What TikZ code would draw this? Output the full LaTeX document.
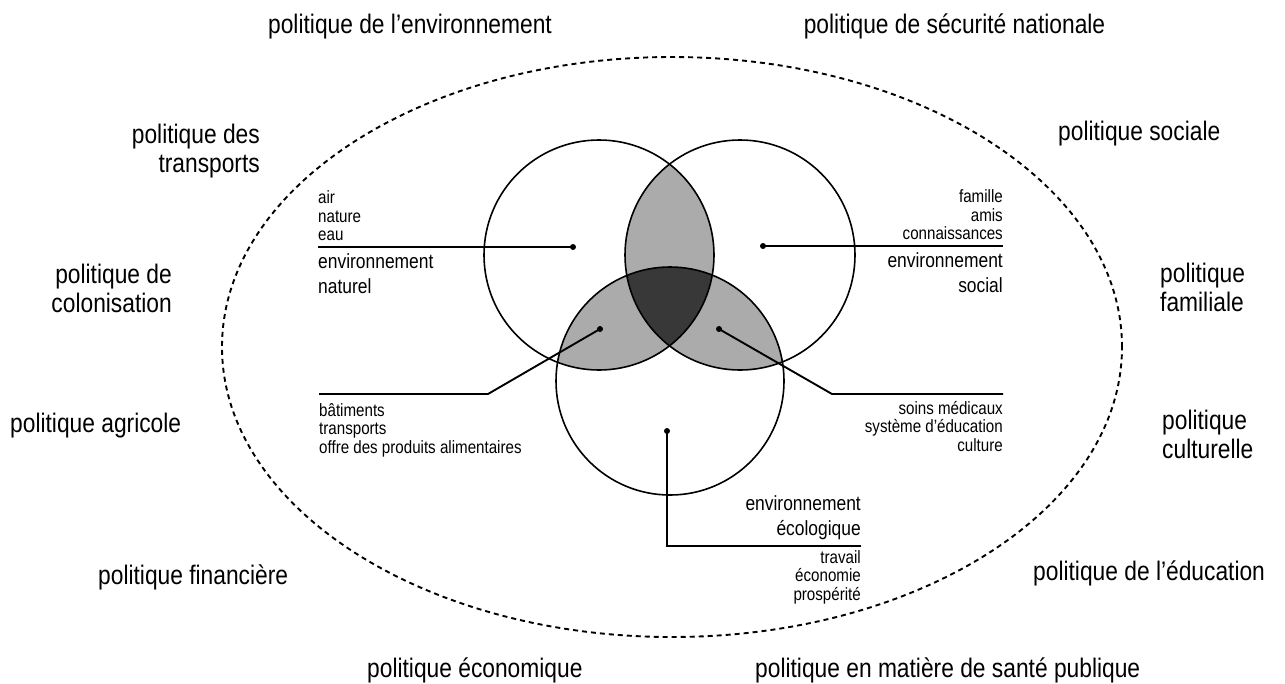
\documentclass[tikz,border=0pt]{standalone}
\usepackage{fontspec}
\setmainfont{Liberation Sans}[FakeStretch=0.85]
\usetikzlibrary{positioning}

\begin{document}
\begin{tikzpicture}[x=1pt, y=-1pt,
    outer/.style={font=\fontsize{26.8}{29}\selectfont, inner sep=0pt},
    mid/.style={font=\fontsize{20.5}{25}\selectfont, inner sep=0pt},
    small/.style={font=\fontsize{17.8}{18.5}\selectfont, inner sep=0pt},
    ring/.style={line width=1.6pt},
    leader/.style={line width=1.9pt},
    lightshade/.style={fill=black!33},
    darkshade/.style={fill=black!78}]
    \useasboundingbox (0, 0) rectangle (1285, 683);
        % the three environments
        \coordinate (cA) at (599, 255);
        \coordinate (cB) at (740, 255);
        \coordinate (cC) at (670, 381);
        \begin{scope}
            \clip (cA) circle (115pt);
            \fill[lightshade] (cB) circle (115pt);
            \fill[lightshade] (cC) circle (114pt);
        \end{scope}
        \begin{scope}
            \clip (cB) circle (115pt);
            \fill[lightshade] (cC) circle (114pt);
        \end{scope}
        \begin{scope}
            \clip (cA) circle (115pt);
            \clip (cB) circle (115pt);
            \fill[darkshade] (cC) circle (114pt);
        \end{scope}
        \draw[ring] (cA) circle (115pt);
        \draw[ring] (cB) circle (115pt);
        \draw[ring] (cC) circle (114pt);
        \draw[line width=1.9pt, dash pattern=on 5pt off 4pt] (672, 347) ellipse [x radius=450pt, y radius=290pt];
        % leaders
        \coordinate (dA) at (573, 247);
        \coordinate (eA) at (318, 247);
        \coordinate (dB) at (763, 246);
        \coordinate (eB) at (1003, 246);
        \coordinate (dAC) at (600, 329);
        \coordinate (kAC) at (488, 394);
        \coordinate (eAC) at (319, 394);
        \coordinate (dBC) at (719, 329);
        \coordinate (kBC) at (832, 394);
        \coordinate (eBC) at (1003, 394);
        \coordinate (dC) at (667, 431);
        \coordinate (kC) at (667, 546);
        \coordinate (eC) at (861, 546);
        \draw[leader] (dA) -- (eA);
        \draw[leader] (dB) -- (eB);
        \draw[leader] (dAC) -- (kAC) -- (eAC);
        \draw[leader] (dBC) -- (kBC) -- (eBC);
        \draw[leader] (dC) -- (kC) -- (eC);
        \foreach \d in {dA, dB, dAC, dBC, dC}
            \fill (\d) circle (3pt);
        % inner labels
        \node[small, align=left, anchor=south west, above right=6pt and 0pt of eA] (natA) {air\\nature\\eau};
        \node[mid, align=left, anchor=north west, below right=6pt and 0pt of eA] (natB) {environnement\\naturel};
        \node[small, align=right, anchor=south east, above left=6pt and 0pt of eB] (socA) {famille\\amis\\connaissances};
        \node[mid, align=right, anchor=north east, below left=6pt and 0pt of eB] (socB) {environnement\\social};
        \node[small, align=left, anchor=north west, below right=9pt and 0pt of eAC] (bati) {bâtiments\\transports\\offre des produits alimentaires};
        \node[small, align=right, anchor=north east, below left=7pt and 0pt of eBC] (soins) {soins médicaux\\système d’éducation\\culture};
        \node[mid, align=right, anchor=south east, above left=6pt and 0pt of eC] (ecoA) {environnement\\écologique};
        \node[small, align=right, anchor=north east, below left=4pt and 0pt of eC] (ecoB) {travail\\économie\\prospérité};
        % policies (base = last line)
        \node[outer, anchor=base] (polEnv) at (410, 33) {politique de l’environnement};
        \node[outer, anchor=base] (polSec) at (954.5, 33) {politique de sécurité nationale};
        \node[outer, align=right, anchor=base east] (polTra) at (260, 172) {politique des\\transports};
        \node[outer, anchor=base west] (polSoc) at (1058, 140) {politique sociale};
        \node[outer, align=right, anchor=base east] (polCol) at (172, 312) {politique de\\colonisation};
        \node[outer, align=left, anchor=base west] (polFam) at (1160, 311) {politique\\familiale};
        \node[outer, anchor=base west] (polAgr) at (10, 432) {politique agricole};
        \node[outer, align=left, anchor=base west] (polCul) at (1162, 458) {politique\\culturelle};
        \node[outer, anchor=base west] (polFin) at (98, 584) {politique financière};
        \node[outer, anchor=base west] (polEdu) at (1033, 580) {politique de l’éducation};
        \node[outer, anchor=base west] (polEco) at (367, 677) {politique économique};
        \node[outer, anchor=base west] (polSan) at (755, 677) {politique en matière de santé publique};
\end{tikzpicture}
\end{document}
